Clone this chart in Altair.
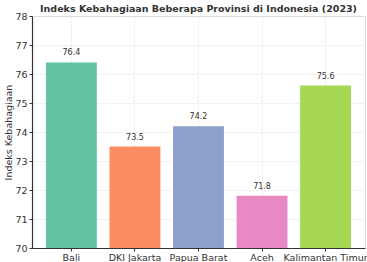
import altair as alt
import pandas as pd

provinsi = ["Bali", "DKI Jakarta", "Papua Barat", "Aceh", "Kalimantan Timur"]
indeks = [76.4, 73.5, 74.2, 71.8, 75.6]
warna = ["#66c2a5", "#fc8d62", "#8da0cb", "#e78ac3", "#a6d854"]

df = pd.DataFrame({"Provinsi": provinsi, "Indeks": indeks, "Label": [f"{v:.1f}" for v in indeks]})

FONT = "DejaVu Sans"

x = alt.X("Provinsi:N", sort=provinsi, title=None,
          scale=alt.Scale(paddingInner=0.2, paddingOuter=0.22),
          axis=alt.Axis(labelAngle=0, labelFont=FONT, labelFontSize=9.5, labelColor="#333",
                        domainColor="#333", domainWidth=1.2, tickColor="#333", tickSize=3,
                        grid=True, gridDash=[2, 2], gridColor="#dddddd", gridWidth=0.8,
                        labelPadding=1, labelOverlap=False))
y = alt.Y("Indeks:Q", title="Indeks Kebahagiaan",
          scale=alt.Scale(domain=[70, 78], nice=False, zero=False),
          axis=alt.Axis(values=list(range(70, 79)), labelFont=FONT, labelFontSize=9.5, labelColor="#333",
                        titleFont=FONT, titleFontSize=9.5, titleFontWeight="normal", titleColor="#333",
                        domainColor="#333", domainWidth=1.2, tickColor="#333", tickSize=3,
                        grid=True, gridDash=[2, 2], gridColor="#dddddd", gridWidth=0.8,
                        titlePadding=1, labelPadding=2, labelOverlap=False, labelFlush=False))

bars = alt.Chart(df).mark_bar(clip=True).encode(
    x=x,
    y=y,
    y2=alt.datum(70),
    color=alt.Color("Provinsi:N", scale=alt.Scale(domain=provinsi, range=warna), legend=None),
)

labels = alt.Chart(df).mark_text(font=FONT, fontSize=8, color="#333", dy=-5, baseline="bottom").encode(
    x=x,
    y=y,
    text="Label:N",
)

chart = alt.layer(bars, labels).properties(
    width=333, height=232,
    title=alt.TitleParams("Indeks Kebahagiaan Beberapa Provinsi di Indonesia (2023)",
                          font=FONT, fontSize=9.5, fontWeight="bold", color="#333", offset=2, dy=4),
    padding={"left": 32, "top": 16, "right": 2, "bottom": 14},
    autosize=alt.AutoSizeParams(type="none"),
).configure_view(stroke=None).configure(background="white")

chart.save("out.html", embed_options={"renderer": "svg", "actions": False})
